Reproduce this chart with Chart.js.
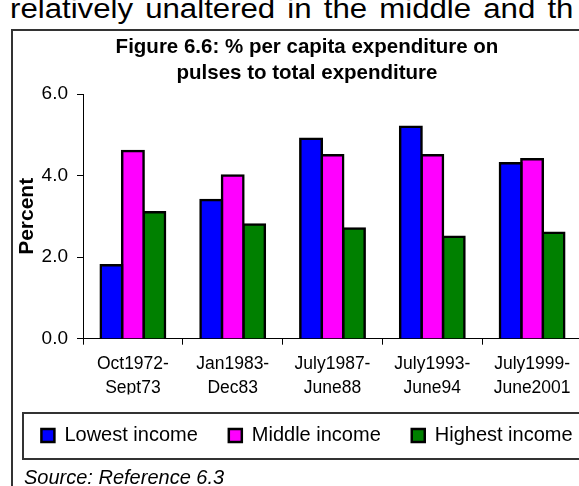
<!DOCTYPE html>
<html>
<head>
<meta charset="utf-8">
<title>Figure 6.6</title>
<script src="https://cdn.jsdelivr.net/npm/chart.js@4.4.0/dist/chart.umd.min.js"></script>
<style>
  html, body { margin: 0; padding: 0; background: #fff; overflow: hidden; }
  body { position: relative; width: 579px; height: 486px; font-family: 'Liberation Sans', Arial, sans-serif; color: #000; }
  .lead {
    position: absolute; left: 10px; top: -4px; white-space: nowrap;
    font-size: 27px; line-height: 27px; word-spacing: 3px;
    transform: scaleX(1.155); transform-origin: 0 0;
  }
  .frame { position: absolute; left: 11px; top: 29px; width: 700px; height: 500px; border: 2px solid #333; }
  .legend-box { position: absolute; left: 22px; top: 412px; width: 700px; height: 44px; border: 2px solid #333; }
  .source { position: absolute; left: 24px; top: 467px; font-size: 20px; line-height: 20px; font-style: italic; white-space: nowrap; }
  #chart { position: absolute; left: 0; top: 0; }
</style>
</head>
<body>
<div class="lead">relatively unaltered in the middle and th</div>
<div class="frame"></div>
<div class="legend-box"></div>
<canvas id="chart" width="614" height="486"></canvas>
<div class="source">Source: Reference 6.3</div>

<script>
// Survey rounds (two-line axis labels)
const categories = [
  ['Oct1972-', 'Sept73'],
  ['Jan1983-', 'Dec83'],
  ['July1987-', 'June88'],
  ['July1993-', 'June94'],
  ['July1999-', 'June2001']
];

// % of total expenditure spent on pulses
const lowestIncome = [1.8, 3.4, 4.9, 5.2, 4.3];
const middleIncome = [4.6, 4.0, 4.5, 4.5, 4.4];
const highestIncome = [3.1, 2.8, 2.7, 2.5, 2.6];

const yTickValues = [0, 2, 4, 6];

const FONT = "'Liberation Sans', Arial, sans-serif";

function barSet(label, data, color) {
  return {
    label: label,
    data: data,
    backgroundColor: color,
    borderColor: '#000',
    borderWidth: 2.5,
    inflateAmount: 1.25,   // centre the outline on the bar edge so neighbours share it
    categoryPercentage: 0.645,
    barPercentage: 1.0
  };
}

const ctx = document.getElementById('chart').getContext('2d');

new Chart(ctx, {
  type: 'bar',
  data: {
    labels: categories,
    datasets: [
      barSet('Lowest income', lowestIncome, '#0000FF'),
      barSet('Middle income', middleIncome, '#FF00FF'),
      barSet('Highest income', highestIncome, '#008000')
    ]
  },
  options: {
    responsive: false,
    animation: false,
    devicePixelRatio: 1,
    layout: { padding: { top: 30, bottom: 30.5, left: 0, right: 0 } },
    plugins: {
      title: {
        display: true,
        text: ['Figure 6.6: % per capita expenditure on', 'pulses to total expenditure'],
        color: '#000',
        font: { family: FONT, size: 20.5, weight: 'bold', lineHeight: 26 / 20.5 },
        padding: { top: 4, bottom: 8 }
      },
      legend: {
        position: 'bottom',
        labels: {
          color: '#000',
          font: { family: FONT, size: 20 },
          boxWidth: 13,
          boxHeight: 13,
          padding: 31
        }
      },
      tooltip: { enabled: false }
    },
    scales: {
      x: {
        grid: { display: true, drawOnChartArea: false, drawTicks: true, tickLength: 6, color: '#000', lineWidth: 1 },
        border: { display: true, color: '#000', width: 1 },
        ticks: {
          color: '#000',
          font: { family: FONT, size: 17.5, lineHeight: 24 / 17.5 },
          padding: 7,
          maxRotation: 0,
          autoSkip: false
        },
        afterFit: function(scale) { scale.height = 55.8; }
      },
      y: {
        min: 0,
        max: 6,
        grid: { display: true, drawOnChartArea: false, drawTicks: true, tickLength: 6, color: '#000', lineWidth: 1 },
        border: { display: true, color: '#000', width: 1 },
        afterBuildTicks: function(scale) {
          scale.ticks = yTickValues.map(v => ({ value: v }));
        },
        ticks: {
          color: '#000',
          font: { family: FONT, size: 19 },
          padding: 9,
          callback: function(value) { return Number(value).toFixed(1); }
        },
        title: {
          display: true,
          text: 'Percent',
          color: '#000',
          font: { family: FONT, size: 21, weight: 'bold' },
          padding: { top: 15, bottom: 0 }
        },
        afterFit: function(scale) { scale.width = 83; }
      },
      // empty right-hand spacer: keeps the plot narrower than the title/legend band
      spacer: {
        type: 'linear',
        position: 'right',
        display: true,
        grid: { display: false },
        border: { display: false },
        ticks: { display: false },
        afterFit: function(scale) { scale.width = 32; }
      }
    }
  }
});
</script>
</body>
</html>
